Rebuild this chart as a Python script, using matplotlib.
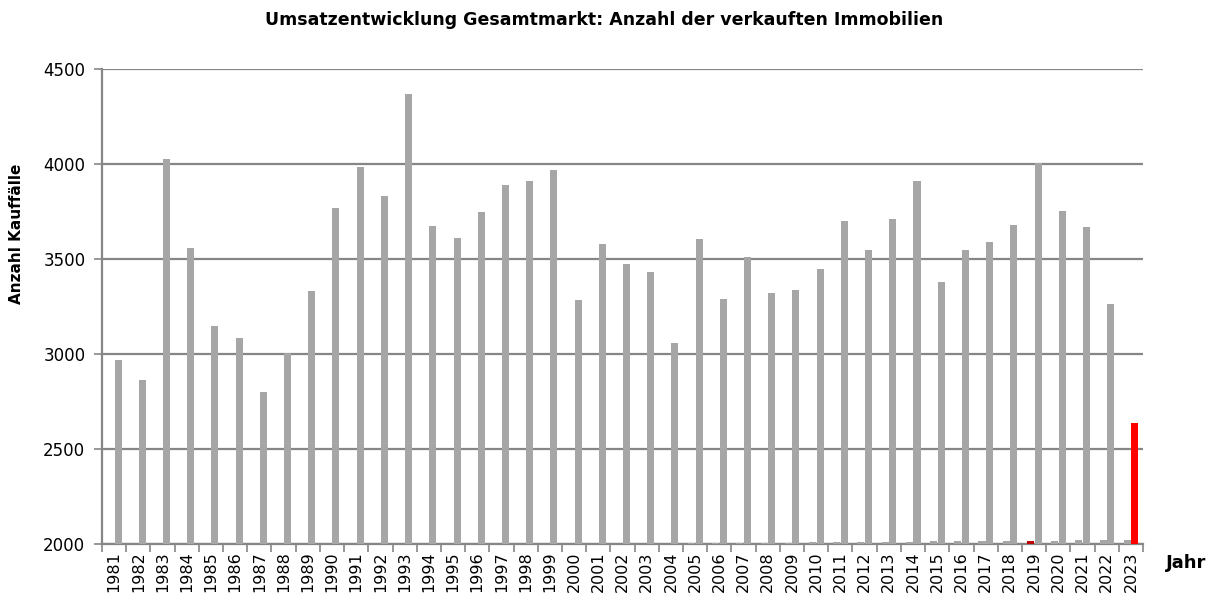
import matplotlib
matplotlib.use("Agg")
import matplotlib.pyplot as plt
import numpy as np

plt.rcParams['font.family'] = ['DejaVu Sans']

years = list(range(1981, 2024))
jahr_values = years  # first series: the year itself (mostly hidden below 2000)
kauffaelle = [2970, 2865, 4028, 3561, 3150, 3087, 2803, 3005, 3332, 3772,
              3987, 3835, 4368, 3674, 3610, 3749, 3891, 3914, 3970, 3284,
              3582, 3474, 3432, 3058, 3605, 3289, 3510, 3324, 3337, 3449,
              3702, 3547, 3712, 3910, 3379, 3547, 3589, 3679, 4005, 3754,
              3668, 3263, 2640]
tick_labels = [str(y) for y in years]

title = "Umsatzentwicklung Gesamtmarkt: Anzahl der verkauften Immobilien"
ylabel = "Anzahl Kauffälle"
xlabel = "Jahr"

GRAY = '#A6A6A6'
RED = '#FF0000'
DARKRED = '#C00000'
AXC = '#868686'

fig = plt.figure(figsize=(12.18, 5.97), dpi=100)
W, H = 1218, 597
ax = fig.add_axes([102 / W, (H - 544.3) / H, (1143 - 102) / W, (544.3 - 69.3) / H])

x = np.arange(len(years))
small_colors = [DARKRED if y == 2019 else GRAY for y in years]
main_colors = [RED if y == 2023 else GRAY for y in years]
ax.bar(x - 0.15, jahr_values, width=0.29, color=small_colors, zorder=3)
ax.bar(x + 0.165, kauffaelle, width=0.29, color=main_colors, zorder=3)

ax.set_ylim(2000, 4500)
ax.set_xlim(-0.5, len(years) - 0.5)
ax.set_yticks([2000, 2500, 3000, 3500, 4000, 4500])
ax.yaxis.grid(True, color=AXC, linewidth=1.6, zorder=1)
ax.set_axisbelow(True)

ax.set_xticks(x)
ax.set_xticklabels(tick_labels, rotation=90, fontsize=11.5)
ax.set_xticks(np.arange(-0.5, len(years), 1), minor=True)
ax.tick_params(axis='x', which='major', length=0, pad=5)
ax.tick_params(axis='x', which='minor', length=6, color=AXC, width=1.2)
ax.tick_params(axis='y', length=6, color=AXC, width=1.2, labelsize=12, pad=6)

for s in ['top', 'right']:
    ax.spines[s].set_visible(False)
for s in ['left', 'bottom']:
    ax.spines[s].set_color(AXC)
    ax.spines[s].set_linewidth(1.6)

ax.set_ylabel(ylabel, fontsize=11, fontweight='bold')
ax.yaxis.set_label_coords((24 - 102) / 1041, (544.3 - 234) / 475)
fig.text(604 / W, 1 - 20 / H, title, ha='center', va='center', fontsize=12.5, fontweight='bold')
fig.text(1186 / W, 1 - 563 / H, xlabel, ha='center', va='center', fontsize=13, fontweight='bold')

fig.savefig("out.png", dpi=100)
